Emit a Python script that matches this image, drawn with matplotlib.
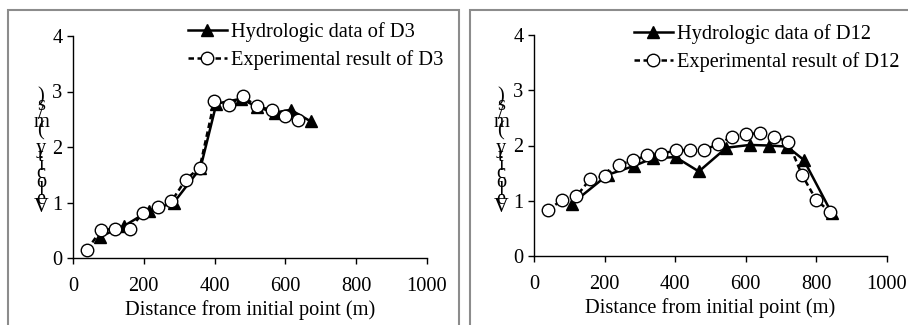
import matplotlib
matplotlib.use("Agg")
import matplotlib.pyplot as plt
from matplotlib.patches import Rectangle

plt.rcParams['font.family'] = ['Liberation Serif', 'DejaVu Serif']

# ---- data ----
d3_hydro_x = [75, 145, 215, 285, 360, 405, 475, 520, 570, 615, 672]
d3_hydro_y = [0.38, 0.58, 0.85, 1.00, 1.62, 2.78, 2.87, 2.72, 2.62, 2.67, 2.46]
d3_exp_x = [40, 80, 118, 160, 198, 241, 278, 318, 358, 399, 440, 481, 519, 562, 599, 637]
d3_exp_y = [0.15, 0.51, 0.52, 0.53, 0.81, 0.91, 1.02, 1.41, 1.63, 2.82, 2.76, 2.91, 2.73, 2.67, 2.55, 2.48]

d12_hydro_x = [108, 209, 283, 337, 401, 467, 545, 611, 665, 717, 764, 844]
d12_hydro_y = [0.95, 1.47, 1.63, 1.77, 1.79, 1.53, 1.96, 2.01, 2.00, 1.98, 1.74, 0.77]
d12_exp_x = [40, 80, 120, 160, 200, 241, 280, 321, 360, 401, 441, 481, 521, 561, 600, 640, 679, 720, 759, 799, 838]
d12_exp_y = [0.83, 1.02, 1.08, 1.40, 1.44, 1.65, 1.73, 1.82, 1.85, 1.91, 1.92, 1.92, 2.02, 2.16, 2.21, 2.22, 2.16, 2.07, 1.47, 1.02, 0.80]

xticks = [0, 200, 400, 600, 800, 1000]
yticks = [0, 1, 2, 3, 4]
xlabel = "Distance from initial point (m)"
ylabel = "Velocity (m/s)"
legend_d3 = ["Hydrologic data of D3", "Experimental result of D3"]
legend_d12 = ["Hydrologic data of D12", "Experimental result of D12"]

W, H = 908, 325
fig = plt.figure(figsize=(W / 100, H / 100), dpi=100)

# panel borders
for (x0, y0, x1, y1) in [(8, 10, 459, 340), (470, 10, 930, 340)]:
    fig.patches.append(Rectangle((x0 / W, 1 - y1 / H), (x1 - x0) / W, (y1 - y0) / H,
                                 transform=fig.transFigure, fill=False,
                                 edgecolor='#8c8c8c', linewidth=1.5))

def px_axes(x0, x1, ytop, ybot):
    return fig.add_axes([x0 / W, 1 - ybot / H, (x1 - x0) / W, (ybot - ytop) / H])

FS = 14.7

def make_panel(ax, hx, hy, ex, ey, labels, leg_xy, ylab_x):
    ax.plot(hx, hy, '-', color='black', lw=1.8, marker='^', ms=9,
            mfc='black', mec='black', label=labels[0], zorder=3)
    ax.plot(ex, ey, color='black', lw=1.8, dashes=(2.2, 1.4), marker='o', ms=9,
            mfc='white', mec='black', mew=1.0, label=labels[1], zorder=4)
    ax.set_xlim(0, 1000)
    ax.set_ylim(0, 4)
    ax.set_xticks(xticks)
    ax.set_yticks(yticks)
    ax.tick_params(direction='out', length=4.5, width=1, labelsize=FS)
    ax.tick_params(axis='x', pad=9)
    ax.tick_params(axis='y', pad=3)
    for s in ['top', 'right']:
        ax.spines[s].set_visible(False)
    for s in ['left', 'bottom']:
        ax.spines[s].set_linewidth(1)
    ax.set_xlabel(xlabel, fontsize=FS, labelpad=3)
    ax.patch.set_alpha(0)
    ax.legend(loc='upper left', bbox_to_anchor=(leg_xy[0] / W, 1 - leg_xy[1] / H),
              bbox_transform=fig.transFigure, frameon=False, fontsize=FS,
              handlelength=1.9, handletextpad=0.2, labelspacing=0.4,
              borderpad=0, borderaxespad=0)
    # stacked vertical y label
    n = len(ylabel)
    for i, ch in enumerate(ylabel):
        ypx = 208 - i * (111 / (n - 1))
        fig.text(ylab_x / W, 1 - ypx / H, ch, fontsize=FS, ha='center', va='center')

ax1 = px_axes(73, 427, 36, 258)
make_panel(ax1, d3_hydro_x, d3_hydro_y, d3_exp_x, d3_exp_y, legend_d3, (188, 22), 41)

ax2 = px_axes(534, 887, 35, 256)
make_panel(ax2, d12_hydro_x, d12_hydro_y, d12_exp_x, d12_exp_y, legend_d12, (634, 24), 501)

fig.savefig("out.png", dpi=100)
